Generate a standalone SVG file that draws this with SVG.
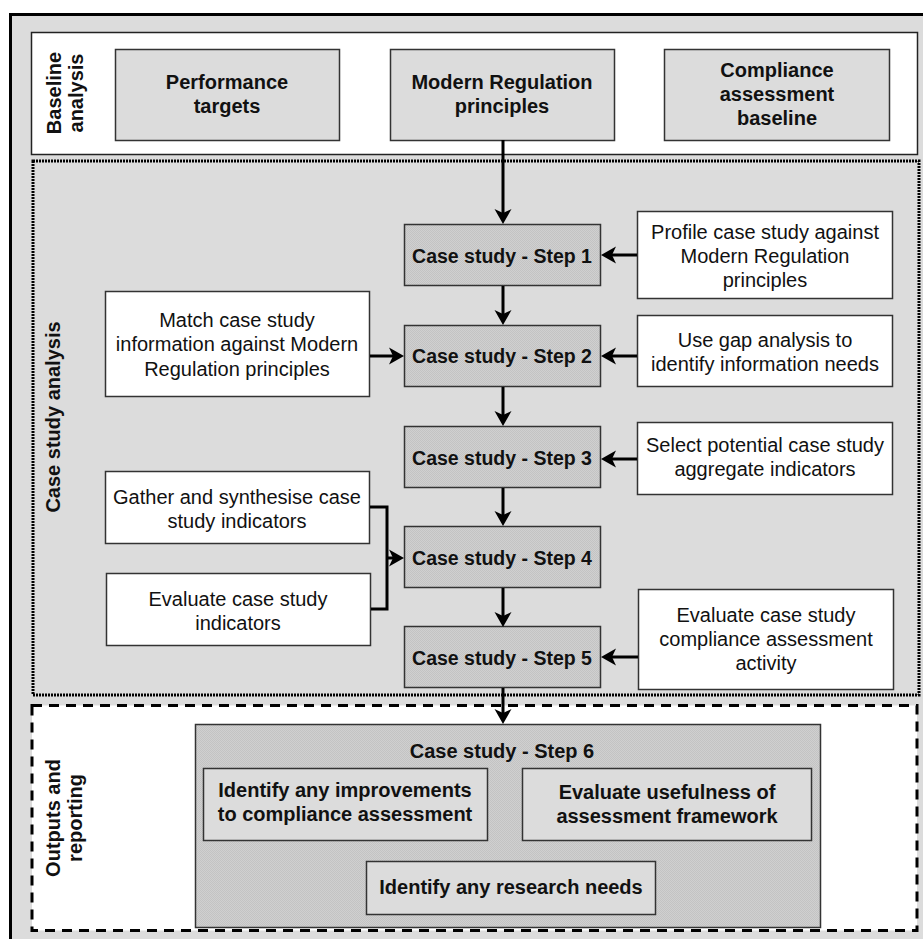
<svg xmlns="http://www.w3.org/2000/svg" width="923" height="939" viewBox="0 0 923 939">
<style>
text{font-family:"Liberation Sans",Arial,sans-serif;fill:#111;text-anchor:middle;font-size:20px}
.b{font-weight:bold}
.box{fill:#dcdcdc;stroke:#333;stroke-width:1.5}
.wbox{fill:#fff;stroke:#333;stroke-width:1.5}
.step{fill:url(#tex);stroke:#333;stroke-width:1.5}
.conn{fill:none;stroke:#000;stroke-width:3}
</style>
<defs>
<pattern id="tex" width="2" height="2" patternUnits="userSpaceOnUse">
<rect width="2" height="2" fill="#d0d0d0"/>
<rect width="1" height="1" fill="#c3c3c3"/>
<rect x="1" y="1" width="1" height="1" fill="#c3c3c3"/>
</pattern>
<marker id="ah" viewBox="-6 -10 17 20" refX="0" refY="0" markerWidth="17" markerHeight="20" markerUnits="userSpaceOnUse" orient="auto">
<path d="M-5,-8.5 L10,0 L-5,8.5 L-1,0 Z" fill="#000"/>
</marker>
</defs>
<rect width="923" height="939" fill="#fff"/>
<rect x="10.5" y="14.5" width="925" height="935" fill="#dcdcdc" stroke="#000" stroke-width="3"/>

<g id="panel-baseline">
<rect x="31.5" y="32.5" width="886" height="122" fill="#fff" stroke="#222" stroke-width="1.5"/>
<text class="b" transform="translate(61,93) rotate(-90)">Baseline</text>
<text class="b" transform="translate(83,93) rotate(-90)">analysis</text>
</g>
<g id="panel-case">
<rect x="33" y="161" width="886" height="534" fill="#dcdcdc" stroke="#000" stroke-width="3" stroke-dasharray="2 1"/>
<text class="b" transform="translate(60,417) rotate(-90)">Case study analysis</text>
</g>
<g id="panel-outputs">
<rect x="32" y="705.5" width="885" height="225" fill="#fff" stroke="#000" stroke-width="3" stroke-dasharray="10 7"/>
<text class="b" transform="translate(60,818) rotate(-90)">Outputs and</text>
<text class="b" transform="translate(82,818) rotate(-90)">reporting</text>
</g>

<g id="performance-targets">
<rect class="box" x="115.5" y="49.5" width="224" height="91"/>
<text class="b" x="227" y="89">Performance</text>
<text class="b" x="227" y="113">targets</text>
</g>
<g id="modern-regulation">
<rect class="box" x="390.5" y="49.5" width="224" height="91"/>
<text class="b" x="502" y="89">Modern Regulation</text>
<text class="b" x="502" y="113">principles</text>
</g>
<g id="compliance-baseline">
<rect class="box" x="664.5" y="49.5" width="225" height="91"/>
<text class="b" x="777" y="77">Compliance</text>
<text class="b" x="777" y="101">assessment</text>
<text class="b" x="777" y="125">baseline</text>
</g>

<g id="step1">
<rect class="step" x="404.5" y="224.5" width="196" height="61"/>
<text class="b" x="502" y="263" style="font-size:19.5px">Case study - Step 1</text>
</g>
<g id="step2">
<rect class="step" x="404.5" y="325.5" width="196" height="61"/>
<text class="b" x="502" y="363" style="font-size:19.5px">Case study - Step 2</text>
</g>
<g id="step3">
<rect class="step" x="404.5" y="426.5" width="196" height="61"/>
<text class="b" x="502" y="465" style="font-size:19.5px">Case study - Step 3</text>
</g>
<g id="step4">
<rect class="step" x="404.5" y="526.5" width="196" height="61"/>
<text class="b" x="502" y="565" style="font-size:19.5px">Case study - Step 4</text>
</g>
<g id="step5">
<rect class="step" x="404.5" y="626.5" width="196" height="61"/>
<text class="b" x="502" y="665" style="font-size:19.5px">Case study - Step 5</text>
</g>

<g id="profile">
<rect class="wbox" x="637.5" y="211.5" width="255" height="87"/>
<text x="765" y="239">Profile case study against</text>
<text x="765" y="263">Modern Regulation</text>
<text x="765" y="287">principles</text>
</g>
<g id="gap-analysis">
<rect class="wbox" x="637.5" y="315.5" width="255" height="71"/>
<text x="765" y="347">Use gap analysis to</text>
<text x="765" y="371">identify information needs</text>
</g>
<g id="select-indicators">
<rect class="wbox" x="637.5" y="422.5" width="255" height="72"/>
<text x="765" y="452">Select potential case study</text>
<text x="765" y="476">aggregate indicators</text>
</g>
<g id="evaluate-compliance">
<rect class="wbox" x="638.5" y="589.5" width="255" height="100"/>
<text x="766" y="622">Evaluate case study</text>
<text x="766" y="646">compliance assessment</text>
<text x="766" y="670">activity</text>
</g>

<g id="match">
<rect class="wbox" x="105.5" y="291.5" width="264" height="105"/>
<text x="237" y="327">Match case study</text>
<text x="237" y="351">information against Modern</text>
<text x="237" y="376">Regulation principles</text>
</g>
<g id="gather">
<rect class="wbox" x="105.5" y="471.5" width="264" height="72"/>
<text x="237" y="504">Gather and synthesise case</text>
<text x="237" y="528">study indicators</text>
</g>
<g id="evaluate-indicators">
<rect class="wbox" x="106.5" y="573.5" width="264" height="72"/>
<text x="238" y="606">Evaluate case study</text>
<text x="238" y="630">indicators</text>
</g>

<g id="step6">
<rect class="step" x="195.5" y="724.5" width="625" height="203"/>
<text class="b" x="502" y="758">Case study - Step 6</text>
<rect class="box" x="203.5" y="768.5" width="284" height="72"/>
<text class="b" x="345" y="797">Identify any improvements</text>
<text class="b" x="345" y="821">to compliance assessment</text>
<rect class="box" x="522.5" y="768.5" width="289" height="72"/>
<text class="b" x="667" y="799">Evaluate usefulness of</text>
<text class="b" x="667" y="823">assessment framework</text>
<rect class="box" x="366.5" y="861.5" width="289" height="53"/>
<text class="b" x="511" y="894">Identify any research needs</text>
</g>

<g id="connectors">
<path class="conn" d="M503,140 V214" marker-end="url(#ah)"/>
<path class="conn" d="M503,286 V315" marker-end="url(#ah)"/>
<path class="conn" d="M503,387 V416" marker-end="url(#ah)"/>
<path class="conn" d="M503,488 V516" marker-end="url(#ah)"/>
<path class="conn" d="M503,588 V617" marker-end="url(#ah)"/>
<path class="conn" d="M503,688 V714" marker-end="url(#ah)"/>
<path class="conn" d="M637,255 H611" marker-end="url(#ah)"/>
<path class="conn" d="M637,356 H611" marker-end="url(#ah)"/>
<path class="conn" d="M637,459 H611" marker-end="url(#ah)"/>
<path class="conn" d="M638,657 H611" marker-end="url(#ah)"/>
<path class="conn" d="M370,356 H394" marker-end="url(#ah)"/>
<path class="conn" d="M370,507 H387 V609 H371"/>
<path class="conn" d="M387,558 H394" marker-end="url(#ah)"/>
</g>
</svg>
